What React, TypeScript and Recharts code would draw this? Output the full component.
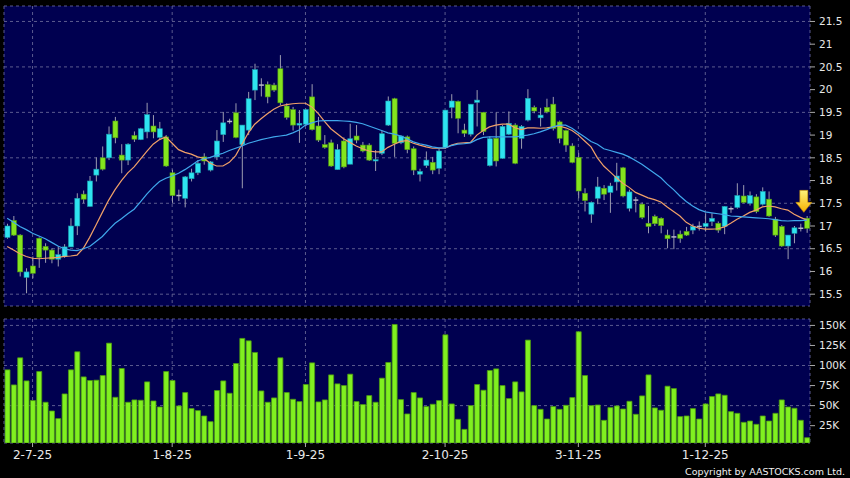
import React from 'react';
import { ComposedChart, Bar, Line, XAxis, YAxis, CartesianGrid, ReferenceDot } from 'recharts';

// daily candles (index 0 = first bar on the left)
const opens = [
  16.75, 17.12, 16.8, 15.87, 16.12, 16.73, 16.55, 16.47, 16.27, 16.33,
  16.54, 17.0, 17.7, 17.43, 18.12, 18.5, 18.5, 19.31, 18.56, 18.45,
  18.99, 18.9, 19.07, 19.2, 18.95, 18.96, 18.17, 17.67, 17.61, 18.04,
  18.17, 18.52, 18.23, 18.52, 19.01, 19.3, 19.49, 18.79, 19.11, 19.99,
  20.1, 20.11, 20.1, 20.46, 19.64, 19.56, 19.22, 19.24, 19.84, 19.2,
  18.79, 18.83, 18.24, 18.87, 18.36, 18.98, 18.78, 18.78, 18.43, 18.6,
  19.22, 19.8, 18.83, 18.96, 18.7, 18.14, 18.33, 18.4, 18.27, 18.73,
  19.61, 19.74, 19.11, 19.02, 19.72, 19.5, 18.33, 18.93, 18.49, 19.02,
  19.22, 18.93, 19.33, 19.61, 19.38, 19.61, 19.68, 19.29, 19.1, 18.76,
  18.51, 17.72, 17.26, 17.61, 17.83, 17.74, 17.97, 18.28, 17.39, 17.57,
  17.48, 17.06, 17.21, 17.17, 16.8, 16.76, 16.82, 16.88, 16.91, 16.99,
  16.99, 17.1, 17.06, 16.99, 17.38, 17.41, 17.66, 17.5, 17.64, 17.48,
  17.59, 17.15, 16.99, 16.56, 16.84, 16.95, 17.17,
];
const highs = [
  17.05, 17.22, 16.82, 16.07, 16.33, 16.75, 16.62, 16.51, 16.55, 16.6,
  17.17, 17.72, 17.78, 18.1, 18.51, 18.75, 19.19, 19.4, 18.8, 18.82,
  19.08, 19.16, 19.71, 19.44, 19.29, 19.0, 18.24, 17.8, 18.1, 18.26,
  18.45, 18.6, 18.43, 19.11, 19.51, 19.36, 19.7, 19.22, 19.95, 20.57,
  20.25, 20.18, 20.15, 20.76, 19.7, 19.62, 19.55, 19.58, 20.12, 19.4,
  19.0, 18.9, 18.8, 18.95, 19.25, 19.22, 18.85, 18.82, 18.67, 19.1,
  19.85, 19.82, 19.0, 18.99, 18.75, 18.26, 18.64, 18.52, 18.7, 19.55,
  19.9, 19.76, 19.25, 19.68, 19.99, 19.51, 18.97, 19.5, 19.22, 19.52,
  19.26, 19.22, 20.01, 19.65, 19.6, 19.8, 19.84, 19.32, 19.12, 18.82,
  18.61, 17.83, 17.54, 18.08, 17.9, 17.95, 18.39, 18.3, 17.8, 17.64,
  17.52, 17.44, 17.25, 17.19, 16.92, 16.92, 16.9, 16.98, 17.05, 17.1,
  17.28, 17.28, 17.1, 17.44, 17.43, 17.94, 17.9, 17.76, 17.7, 17.85,
  17.76, 17.2, 17.02, 16.8, 17.0, 17.05, 17.22,
];
const lows = [
  16.72, 16.78, 15.89, 15.52, 15.85, 16.08, 16.19, 16.18, 16.11, 16.3,
  16.54, 16.8, 17.5, 17.43, 17.98, 18.22, 18.45, 18.82, 18.16, 18.34,
  18.85, 18.89, 18.93, 18.93, 18.9, 18.3, 17.51, 17.55, 17.41, 17.98,
  18.12, 18.35, 18.2, 18.45, 18.85, 19.25, 18.93, 17.83, 19.0, 19.77,
  19.85, 19.7, 19.95, 19.66, 19.34, 19.1, 18.83, 19.2, 19.1, 18.85,
  18.7, 18.3, 18.24, 18.27, 18.36, 18.82, 18.62, 18.43, 18.21, 18.56,
  19.2, 18.52, 18.8, 18.6, 18.12, 17.98, 18.28, 18.14, 18.14, 18.7,
  19.37, 19.04, 18.96, 18.97, 19.19, 19.0, 18.31, 18.31, 18.48, 19.0,
  18.36, 18.7, 19.3, 19.48, 19.19, 19.48, 19.1, 18.82, 18.63, 18.38,
  17.61, 17.32, 17.07, 17.48, 17.57, 17.29, 17.78, 17.63, 17.32, 17.3,
  17.15, 16.84, 17.0, 16.84, 16.51, 16.49, 16.63, 16.78, 16.82, 16.9,
  16.88, 17.0, 16.85, 16.82, 17.29, 17.38, 17.5, 17.45, 17.28, 17.45,
  17.2, 16.76, 16.54, 16.27, 16.62, 16.88, 16.85,
];
const closes = [
  17.0, 16.8, 15.99, 15.99, 15.96, 16.31, 16.47, 16.27, 16.37, 16.54,
  17.0, 17.61, 17.59, 17.99, 18.25, 18.25, 19.02, 18.94, 18.45, 18.8,
  18.91, 19.14, 19.45, 19.07, 19.14, 18.32, 17.67, 17.65, 18.08, 18.17,
  18.38, 18.43, 18.41, 18.87, 19.27, 19.32, 18.95, 19.22, 19.8, 20.44,
  20.08, 19.84, 19.99, 19.71, 19.39, 19.22, 19.26, 19.56, 19.12, 18.89,
  18.73, 18.32, 18.68, 18.3, 18.92, 18.89, 18.65, 18.45, 18.46, 19.03,
  19.75, 18.82, 18.98, 18.68, 18.23, 18.2, 18.45, 18.23, 18.65, 19.55,
  19.75, 19.37, 19.04, 19.68, 19.77, 19.08, 18.92, 18.43, 19.19, 19.26,
  18.38, 19.19, 19.81, 19.53, 19.44, 19.51, 19.15, 18.93, 18.78, 18.4,
  17.77, 17.56, 17.52, 17.86, 17.7, 17.88, 18.1, 17.66, 17.75, 17.55,
  17.19, 16.99, 17.05, 17.01, 16.72, 16.77, 16.73, 16.8, 16.99, 17.0,
  17.06, 17.17, 16.91, 17.43, 17.37, 17.67, 17.52, 17.67, 17.32, 17.76,
  17.22, 16.8, 16.56, 16.8, 16.96, 16.96, 16.95,
];
// moving averages (orange = short, blue = long)
const maShort = [
  16.55, 16.47, 16.39, 16.33, 16.29, 16.28, 16.29, 16.3, 16.31, 16.33,
  16.34, 16.36, 16.51, 16.75, 17.02, 17.3, 17.57, 17.8, 18.0, 18.17,
  18.3, 18.47, 18.64, 18.8, 18.9, 18.96, 18.82, 18.68, 18.62, 18.58,
  18.52, 18.49, 18.38, 18.32, 18.32, 18.4, 18.55, 18.8, 19.05, 19.24,
  19.36, 19.47, 19.57, 19.64, 19.67, 19.69, 19.7, 19.7, 19.62, 19.48,
  19.3, 19.14, 19.03, 18.92, 18.84, 18.76, 18.7, 18.65, 18.63, 18.63,
  18.73, 18.8, 18.86, 18.88, 18.82, 18.78, 18.74, 18.71, 18.71, 18.71,
  18.78, 18.82, 18.83, 18.84, 19.0, 19.1, 19.18, 19.22, 19.24, 19.24,
  19.16, 19.12, 19.16, 19.16, 19.15, 19.16, 19.18, 19.2, 19.16, 19.1,
  19.0, 18.87, 18.74, 18.5, 18.32, 18.19, 18.06, 17.94, 17.85, 17.74,
  17.68, 17.62, 17.58, 17.53, 17.42, 17.32, 17.22, 17.08, 17.0, 16.95,
  16.93, 16.93, 16.94, 16.98, 17.06, 17.15, 17.22, 17.3, 17.35, 17.42,
  17.44, 17.42, 17.38, 17.35, 17.26, 17.19, 17.13,
];
const maLong = [
  17.17, 17.08, 16.99, 16.92, 16.84, 16.78, 16.72, 16.64, 16.56, 16.5,
  16.47, 16.46, 16.5, 16.55, 16.66, 16.77, 16.92, 17.06, 17.16, 17.27,
  17.37, 17.53, 17.7, 17.85, 17.98, 18.05, 18.1, 18.16, 18.24, 18.33,
  18.43, 18.48, 18.51, 18.56, 18.6, 18.66, 18.71, 18.76, 18.82, 18.86,
  18.9, 18.93, 18.96, 18.98, 19.0, 19.05, 19.11, 19.22, 19.27, 19.31,
  19.32, 19.32, 19.32, 19.31, 19.3, 19.28, 19.25, 19.2, 19.15, 19.1,
  19.05, 19.02, 18.98, 18.92, 18.85, 18.81, 18.78, 18.74, 18.72, 18.72,
  18.77, 18.8, 18.81, 18.83, 18.9, 18.95, 18.96, 18.96, 18.96, 18.96,
  18.96, 18.98, 19.0, 19.03, 19.07, 19.12, 19.18, 19.22, 19.22, 19.15,
  19.05, 18.96, 18.86, 18.8, 18.7, 18.66, 18.62, 18.58, 18.52, 18.44,
  18.36, 18.26, 18.16, 18.06, 17.92, 17.8, 17.66, 17.54, 17.44, 17.36,
  17.31, 17.29, 17.27, 17.25, 17.22, 17.21, 17.2, 17.19, 17.18, 17.17,
  17.16, 17.14, 17.12, 17.11, 17.12, 17.12, 17.13,
];
// volume in thousands
const volumes = [
  94.6, 75.8, 109.6, 80.8, 56.3, 92.5, 54.2, 43.3, 33.8, 64.6,
  94.6, 117.1, 85.8, 81.3, 81.7, 87.5, 127.9, 60.4, 96.3, 54.2,
  57.1, 56.7, 79.6, 55.8, 48.3, 92.5, 81.3, 49.6, 66.3, 46.3,
  43.8, 37.1, 30, 68.8, 80.8, 65.4, 102.5, 133.8, 130.8, 116.3,
  68.3, 54.2, 59.6, 109.6, 66.3, 57.9, 55, 76.3, 103.3, 54.6,
  57.1, 88.3, 77.1, 75, 89.2, 55, 51.3, 62.5, 54.2, 84.2,
  103.8, 151.2, 57.5, 39.6, 66.3, 59.6, 48.8, 51.7, 56.3, 138.3,
  52.1, 32.9, 20.4, 50, 76.3, 69.2, 93.8, 95.8, 75, 58.8,
  79.6, 67.1, 131.7, 50, 45.4, 33.3, 48.8, 45.4, 50.4, 60,
  142.1, 87.5, 50, 50.8, 31.7, 47.5, 49.6, 45.8, 55.4, 39.2,
  62.1, 88.3, 47.1, 44.2, 74.2, 71.3, 36.3, 37.1, 46.3, 33.3,
  52.1, 61.3, 64.6, 62.9, 42.5, 40.4, 29.2, 30.8, 26.7, 37.1,
  30.8, 40.4, 57.1, 48.3, 46.7, 31.7, 10,
];

const tickIdx = [4, 26, 47, 69, 90, 110];
const tickLabels = ['2-7-25', '1-8-25', '1-9-25', '2-10-25', '3-11-25', '1-12-25'];
const priceTicks = [15.5, 16, 16.5, 17, 17.5, 18, 18.5, 19, 19.5, 20, 20.5, 21, 21.5];
const volTicks = [25, 50, 75, 100, 125, 150];
const arrowAt = 17.3; // tip of the yellow marker over the last bar

const data = opens.map((o, i) => ({
  i,
  open: o,
  high: highs[i],
  low: lows[i],
  close: closes[i],
  range: [lows[i], highs[i]],
  maShort: maShort[i],
  maLong: maLong[i],
  vol: volumes[i],
}));

const UP = '#2ee4f0';
const DOWN = '#84e41e';
const PANEL = '#000050';
const GRID = '#5b5b8f';
const FONT = 'DejaVu Sans, Verdana, sans-serif';

function Candle(props: any) {
  const { x, y, width, height, payload } = props;
  const top = Math.min(y, y + height);
  const h = Math.abs(height);
  const k = h / (payload.high - payload.low || 1);
  const yo = top + (payload.high - payload.open) * k;
  const yc = top + (payload.high - payload.close) * k;
  const up = payload.close >= payload.open;
  const cx = x + width / 2;
  const flat = Math.abs(yo - yc) < 1;
  return (
    <g>
      <line x1={cx} x2={cx} y1={top} y2={top + h} stroke="#9c9cb0" strokeWidth={1} />
      {flat ? (
        <line x1={x} x2={x + width} y1={yo} y2={yo} stroke="#b8b8c8" strokeWidth={1.5} />
      ) : (
        <rect
          x={x}
          y={Math.min(yo, yc)}
          width={width}
          height={Math.abs(yo - yc)}
          fill={up ? UP : DOWN}
          stroke={up ? '#1b9aaa' : '#4f9a12'}
          strokeWidth={0.6}
        />
      )}
    </g>
  );
}

function Arrow(props: any) {
  const { cx, cy } = props;
  const x = cx - 3;
  return (
    <g>
      <defs>
        <linearGradient id="arrowFill" x1="0" y1="0" x2="0" y2="1">
          <stop offset="0%" stopColor="#fff27a" />
          <stop offset="100%" stopColor="#f5b000" />
        </linearGradient>
      </defs>
      <polygon
        points={`${x - 4},${cy - 22} ${x + 4},${cy - 22} ${x + 4},${cy - 10} ${x + 8},${cy - 10} ${x},${cy} ${x - 8},${cy - 10} ${x - 4},${cy - 10}`}
        fill="url(#arrowFill)"
        stroke="#c88a00"
        strokeWidth={0.6}
      />
    </g>
  );
}

const tickStyle = { fill: '#e8e8e8', fontSize: 10.5, fontFamily: FONT };

export default function App() {
  return (
    <div style={{ position: 'fixed', left: 0, top: 0, width: 850, height: 478, background: '#000', overflow: 'hidden' }}>
      <div style={{ position: 'absolute', left: 0, top: 0 }}>
        <ComposedChart width={850} height={310} data={data} margin={{ top: 6, right: 0, bottom: 4, left: 4 }}>
          <CartesianGrid fill={PANEL} stroke={GRID} strokeDasharray="3 3" />
          <XAxis dataKey="i" type="number" domain={[-0.5, 126.5]} ticks={tickIdx} hide />
          <YAxis
            orientation="right"
            width={40}
            domain={[15.24, 21.84]}
            ticks={priceTicks}
            axisLine={false}
            tickSize={5}
            tickMargin={4}
            tickLine={{ stroke: '#aaa' }}
            tick={tickStyle}
            allowDataOverflow
          />
          <Bar dataKey="range" barSize={5} shape={<Candle />} isAnimationActive={false} />
          <Line dataKey="maShort" stroke="#f0a068" strokeWidth={1.2} dot={false} isAnimationActive={false} />
          <Line dataKey="maLong" stroke="#40a8ec" strokeWidth={1.2} dot={false} isAnimationActive={false} />
          <ReferenceDot x={126} y={arrowAt} shape={<Arrow />} />
        </ComposedChart>
      </div>
      <div style={{ position: 'absolute', left: 0, top: 310 }}>
        <ComposedChart width={850} height={168} data={data} margin={{ top: 9, right: 0, bottom: 0, left: 4 }}>
          <CartesianGrid fill={PANEL} stroke={GRID} strokeDasharray="3 3" />
          <XAxis
            dataKey="i"
            type="number"
            domain={[-0.5, 126.5]}
            ticks={tickIdx}
            tickFormatter={(v: number) => tickLabels[tickIdx.indexOf(v)]}
            height={35}
            axisLine={false}
            tickSize={4}
            tickMargin={3}
            tickLine={{ stroke: '#aaa' }}
            tick={{ ...tickStyle, fontSize: 12 }}
          />
          <YAxis
            orientation="right"
            width={40}
            domain={[3.4, 158]}
            ticks={volTicks}
            tickFormatter={(v: number) => `${v}K`}
            axisLine={false}
            tickSize={5}
            tickMargin={4}
            tickLine={{ stroke: '#aaa' }}
            tick={tickStyle}
            allowDataOverflow
          />
          <Bar dataKey="vol" barSize={5} fill="#80f020" stroke="#4c9a10" strokeWidth={0.8} isAnimationActive={false} />
        </ComposedChart>
      </div>
      <div style={{ position: 'absolute', right: 5, top: 466, color: '#f0f0f0', fontSize: 9.5, fontFamily: FONT }}>
        Copyright by AASTOCKS.com Ltd.
      </div>
    </div>
  );
}
